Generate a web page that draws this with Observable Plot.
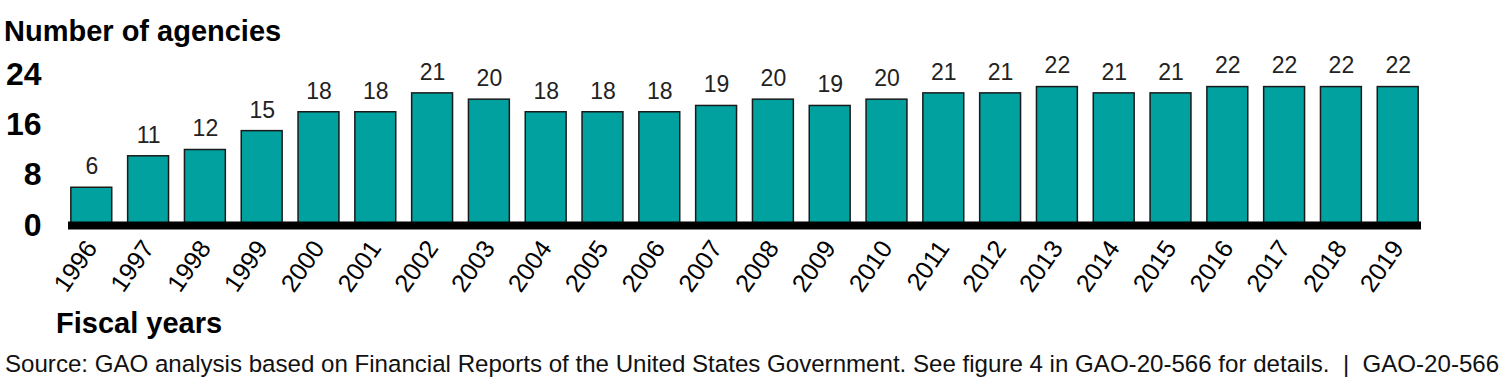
<!DOCTYPE html>
<html>
<head>
<meta charset="utf-8">
<script src="https://cdn.jsdelivr.net/npm/d3@7"></script>
<script src="https://cdn.jsdelivr.net/npm/@observablehq/plot@0.6"></script>
<style>
  html, body { margin: 0; padding: 0; background: white; }
  body { width: 1501px; height: 384px; overflow: hidden; font-family: "Liberation Sans", Arial, Helvetica, sans-serif; color: #000; }
  #title { font-weight: bold; font-size: 29px; line-height: 29px; height: 29px; padding: 17px 0 0 4px; white-space: nowrap; }
  #chart svg { display: block; }
  #xlabel { font-weight: bold; font-size: 29px; line-height: 29px; height: 29px; padding: 3px 0 0 56px; white-space: nowrap; }
  #source { font-size: 24.1px; line-height: 24px; padding: 14px 0 0 5px; white-space: pre; color: #111; }
</style>
</head>
<body>
<div id="title">Number of agencies</div>
<div id="chart"></div>
<div id="xlabel">Fiscal years</div>
<div id="source">Source: GAO analysis based on Financial Reports of the United States Government. See figure 4 in GAO-20-566 for details.  |  GAO-20-566</div>
<script>
const years = ["1996","1997","1998","1999","2000","2001","2002","2003","2004","2005","2006","2007","2008","2009","2010","2011","2012","2013","2014","2015","2016","2017","2018","2019"];
const agencies = [6,11,12,15,18,18,21,20,18,18,18,19,20,19,20,21,21,22,21,21,22,22,22,22];
const yTicks = [0, 8, 16, 24];

const data = years.map((year, i) => ({year, value: agencies[i]}));

const chart = Plot.plot({
  width: 1501,
  height: 260,
  marginTop: 28,
  marginBottom: 81,
  marginLeft: 68,
  marginRight: 80,
  style: {fontFamily: '"Liberation Sans", Arial, Helvetica, sans-serif', background: "transparent", color: "#000"},
  x: {domain: years, paddingInner: 0.28, paddingOuter: 0.05, round: false, label: null},
  y: {domain: [0, 24], label: null},
  marks: [
    Plot.barY(data, {x: "year", y: "value", fill: "#00a19f", stroke: "#1a1a1a", strokeWidth: 1.5}),
    Plot.text(data, {x: "year", y: "value", text: d => String(d.value), dy: -21, fontSize: 23, fill: "#222"}),
    Plot.ruleY([0], {stroke: "black", strokeWidth: 8}),
    Plot.axisY({ticks: yTicks, tickSize: 0, tickPadding: 27, fontSize: 32, fontWeight: "bold", label: null, tickFormat: d => String(d)}),
    Plot.axisX({tickSize: 0, tickPadding: 18, tickRotate: -55, fontSize: 25, label: null})
  ]
});
document.getElementById("chart").appendChild(chart);
</script>
</body>
</html>
